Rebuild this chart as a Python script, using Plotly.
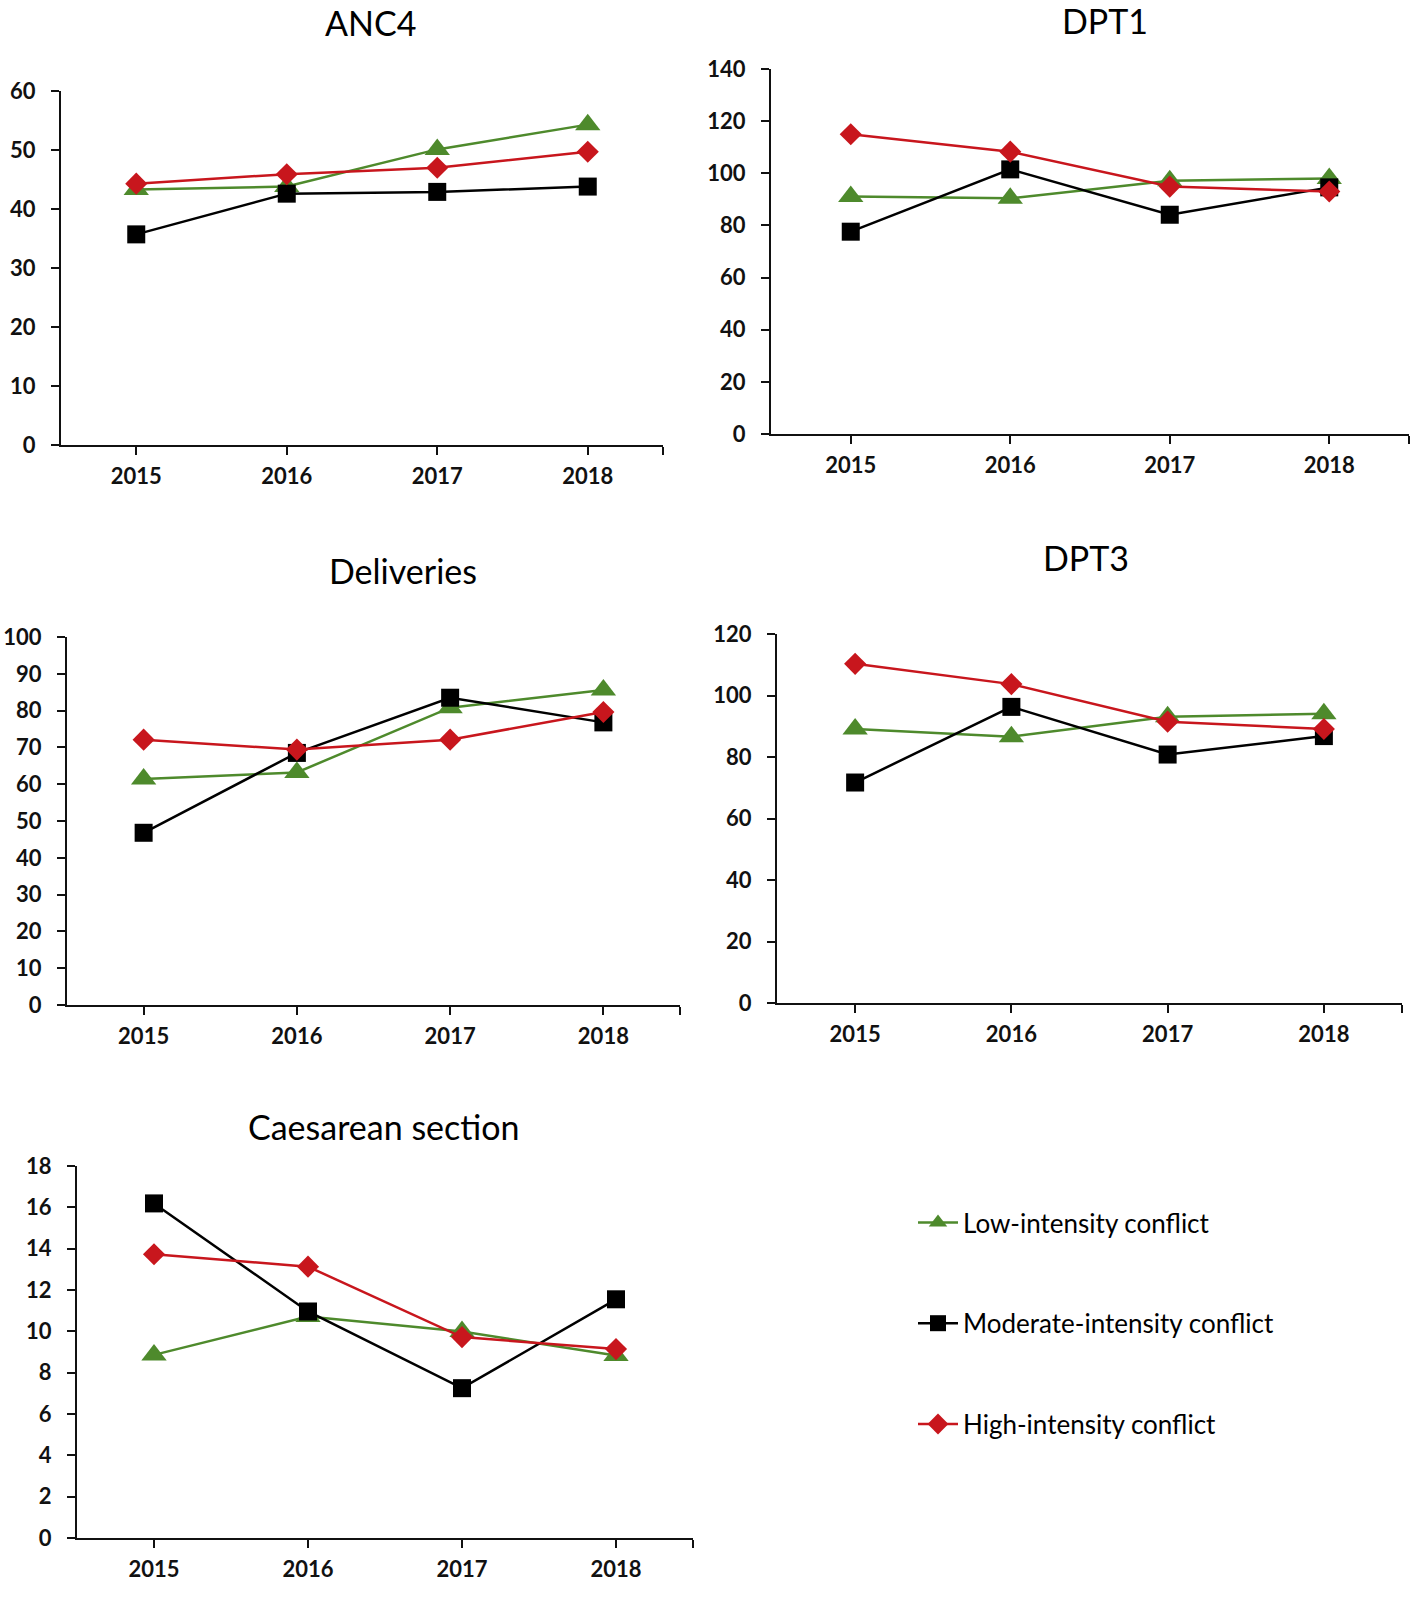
import plotly.graph_objects as go

# ---------------- data ----------------
years = [2015, 2016, 2017, 2018]
year_labels = ["2015", "2016", "2017", "2018"]
panel_titles = ["ANC4", "DPT1", "Deliveries", "DPT3", "Caesarean section"]
series_names = ["Low-intensity conflict", "Moderate-intensity conflict", "High-intensity conflict"]

anc4_low = [43.3, 43.8, 50.1, 54.3]
anc4_moderate = [35.7, 42.6, 42.9, 43.8]
anc4_high = [44.3, 45.9, 47.0, 49.7]

dpt1_low = [91.1, 90.4, 97.1, 98.0]
dpt1_moderate = [77.6, 101.5, 84.1, 94.6]
dpt1_high = [115.0, 108.3, 94.9, 93.0]

deliveries_low = [61.4, 63.2, 80.8, 85.6]
deliveries_moderate = [46.8, 68.5, 83.5, 76.8]
deliveries_high = [72.1, 69.4, 72.1, 79.6]

dpt3_low = [89.1, 86.6, 93.1, 94.1]
dpt3_moderate = [71.7, 96.3, 80.8, 86.8]
dpt3_high = [110.3, 103.7, 91.5, 89.1]

caesarean_low = [8.86, 10.72, 9.99, 8.83]
caesarean_moderate = [16.19, 10.96, 7.25, 11.55]
caesarean_high = [13.73, 13.13, 9.72, 9.14]

y_max = [60, 140, 100, 120, 18]
y_step = [10, 20, 10, 20, 2]

panels_data = [
    (anc4_low, anc4_moderate, anc4_high),
    (dpt1_low, dpt1_moderate, dpt1_high),
    (deliveries_low, deliveries_moderate, deliveries_high),
    (dpt3_low, dpt3_moderate, dpt3_high),
    (caesarean_low, caesarean_moderate, caesarean_high),
]

# ---------------- styling / layout ----------------
W, H = 1418, 1597
FONT = "Lato, 'Open Sans', sans-serif"
colors = ["#4E8A2C", "#000000", "#C8161D"]
symbols = ["triangle-up", "square", "diamond"]
msizes = [22, 18, 17]

# panel boxes in page pixels: (x_left, x_right, y_top, y_bottom)
boxes = [
    (61, 663, 91, 445),
    (771, 1409, 69, 434),
    (67, 680, 637, 1005),
    (777, 1402, 634, 1003),
    (77, 693, 1166, 1538),
]
title_pos = [(370, 22), (1105, 21), (403, 570), (1086, 557), (384, 1126)]


def px(x):
    return x / W


def py(y):
    return 1 - y / H


fig = go.Figure()
layout = dict(
    width=W, height=H,
    margin=dict(l=0, r=0, t=0, b=0, pad=0, autoexpand=False),
    paper_bgcolor="white", plot_bgcolor="white",
    font=dict(family=FONT, color="black"),
    annotations=[],
)

for i, (data, box) in enumerate(zip(panels_data, boxes)):
    n = "" if i == 0 else str(i + 1)
    xa, ya = "x" + n, "y" + n
    for s in range(3):
        fig.add_trace(go.Scatter(
            x=years, y=data[s], mode="lines+markers",
            name=series_names[s],
            legendgroup=series_names[s],
            showlegend=(i == 0),
            line=dict(color=colors[s], width=2.5),
            marker=dict(symbol=symbols[s], size=msizes[s], color=colors[s]),
            cliponaxis=False,
            xaxis=xa, yaxis=ya,
        ))
    x0, x1, yt, yb = box
    layout["xaxis" + n] = dict(
        domain=[px(x0), px(x1)],
        anchor=ya,
        range=[2014.5, 2018.5],
        tickvals=years + [2018.5],
        ticktext=year_labels + [""],
        showline=True, linecolor="#111111", linewidth=2,
        ticks="outside", ticklen=8, tickwidth=2, tickcolor="#111111",
        showgrid=False, zeroline=False, automargin=False,
        tickfont=dict(family=FONT, size=22, color="#111111", weight="bold"),
        ticklabelstandoff=3,
        fixedrange=True,
    )
    layout["yaxis" + n] = dict(
        domain=[py(yb), py(yt)],
        anchor=xa,
        range=[0, y_max[i]],
        dtick=y_step[i], tick0=0,
        showline=True, linecolor="#111111", linewidth=2,
        ticks="outside", ticklen=8, tickwidth=2, tickcolor="#111111",
        showgrid=False, zeroline=False, automargin=False,
        tickfont=dict(family=FONT, size=22, color="#111111", weight="bold"),
        ticklabelstandoff=11,
        fixedrange=True,
    )
    tx, ty = title_pos[i]
    layout["annotations"].append(dict(
        text=panel_titles[i], x=px(tx), y=py(ty),
        xref="paper", yref="paper", showarrow=False,
        xanchor="center", yanchor="middle",
        font=dict(family=FONT, size=34, color="black"),
    ))

layout["legend"] = dict(
    x=px(913), y=py(1199), xanchor="left", yanchor="top",
    traceorder="grouped", tracegroupgap=64,
    font=dict(family=FONT, size=26, color="black"),
    bgcolor="rgba(0,0,0,0)", itemwidth=40,
)
fig.update_layout(**layout)
# remove the default 8px body margin so the figure fills the window exactly
fig.write_html(
    "out.html",
    config={"displayModeBar": False},
    post_script="document.body.style.margin='0';",
)
